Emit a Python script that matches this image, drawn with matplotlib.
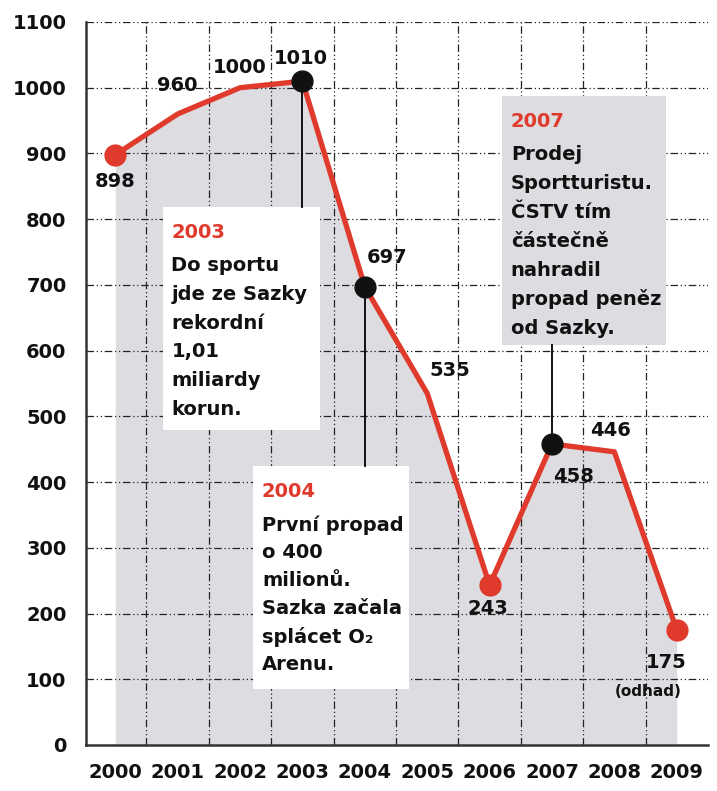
import matplotlib
matplotlib.use("Agg")
import matplotlib.pyplot as plt
from matplotlib.patches import Rectangle

# ---- data ----
years = ["2000", "2001", "2002", "2003", "2004", "2005", "2006", "2007", "2008", "2009"]
values = [898, 960, 1000, 1010, 697, 535, 243, 458, 446, 175]
red_points = [0, 6, 9]
black_points = [3, 4, 7]
y_ticks = [0, 100, 200, 300, 400, 500, 600, 700, 800, 900, 1000, 1100]

notes = [
    {"idx": 3, "year": "2003", "lines": ["Do sportu", "jde ze Sazky", "rekordní", "1,01", "miliardy", "korun."]},
    {"idx": 4, "year": "2004", "lines": ["První propad", "o 400", "milionů.", "Sazka začala", "splácet O₂", "Arenu."]},
    {"idx": 7, "year": "2007", "lines": ["Prodej", "Sportturistu.", "ČSTV tím", "částečně", "nahradil", "propad peněz", "od Sazky."]},
]

RED = "#e03a2c"
GRAY = "#dcdce1"
FONT = "DejaVu Sans"

fig = plt.figure(figsize=(7.17, 7.91), dpi=100)
ax = fig.add_axes([0.1199, 0.0582, 0.8675, 0.914])
x = list(range(len(years)))

ax.set_xlim(-0.47, 9.5)
ax.set_ylim(0, 1100)

# gray area under the line
ax.fill_between(x, values, 0, color=GRAY, zorder=0, linewidth=0)

# grid (dash-dot-dot)
gls = (0, (6, 2.2, 1.0, 2.2, 1.0, 2.2))
for yv in y_ticks[1:]:
    ax.axhline(yv, color="#222222", lw=0.9, ls=gls, zorder=1)
for i in range(len(years) - 1):
    ax.axvline(i + 0.5, color="#222222", lw=0.9, ls=gls, zorder=1)

# annotation boxes: (box x0, x1, y0, y1, leader end y, box colour)
box_geom = [
    (0.76, 3.28, 479, 818, 818, "white"),
    (2.21, 4.71, 85, 424, 424, "white"),
    (6.20, 8.83, 609, 987, 609, GRAY),
]
line_step = [43.7, 42.6, 44.0]
for note, (bx0, bx1, by0, by1, ly, bc), step in zip(notes, box_geom, line_step):
    ax.add_patch(Rectangle((bx0, by0), bx1 - bx0, by1 - by0, facecolor=bc,
                           edgecolor="none", zorder=2))
    i = note["idx"]
    ax.plot([i, i], [values[i], ly], color="#111111", lw=1.4, zorder=3)
    tx = bx0 + 0.14
    ty = by1 - 38
    ax.text(tx, ty, note["year"], color=RED, fontsize=14, fontweight="bold",
            family=FONT, ha="left", va="center", zorder=6)
    ty -= 51
    for ln in note["lines"]:
        ax.text(tx, ty, ln, color="#111111", fontsize=14, fontweight="bold",
                family=FONT, ha="left", va="center", zorder=6)
        ty -= step

# line + markers
ax.plot(x, values, color=RED, lw=3.8, zorder=4, solid_joinstyle="round")
ax.plot([x[i] for i in red_points], [values[i] for i in red_points], "o",
        color=RED, ms=15, zorder=5)
ax.plot([x[i] for i in black_points], [values[i] for i in black_points], "o",
        color="#111111", ms=15, zorder=5)

# value labels: (dx, dy) offsets in data units from point
label_off = [(0.0, -41), (0.0, 44), (0.0, 31), (-0.03, 34), (0.35, 44),
             (0.37, 34), (-0.02, -35), (0.34, -49), (-0.06, 32), (-0.17, -50)]
for i, (dx, dy) in enumerate(label_off):
    ax.text(x[i] + dx, values[i] + dy, str(values[i]), fontsize=14,
            fontweight="bold", family=FONT, ha="center", va="center",
            color="#111111", zorder=6)
ax.text(x[9] - 0.46, values[9] - 94, "(odhad)", fontsize=11, fontweight="bold",
        family=FONT, ha="center", va="center", color="#111111", zorder=6)

# axes styling
ax.set_yticks(y_ticks)
ax.set_yticklabels([str(v) for v in y_ticks])
ax.set_xticks(x)
ax.set_xticklabels(years)
ax.tick_params(axis="both", length=0, labelsize=14, colors="#111111")
ax.tick_params(axis="y", pad=14)
ax.tick_params(axis="x", pad=13)
for lab in ax.get_xticklabels() + ax.get_yticklabels():
    lab.set_fontweight("bold")
    lab.set_family(FONT)
for s in ["top", "right"]:
    ax.spines[s].set_visible(False)
for s in ["left", "bottom"]:
    ax.spines[s].set_color("#333333")
    ax.spines[s].set_linewidth(1.8)
    ax.spines[s].set_zorder(7)

fig.savefig("out.png", dpi=100)
